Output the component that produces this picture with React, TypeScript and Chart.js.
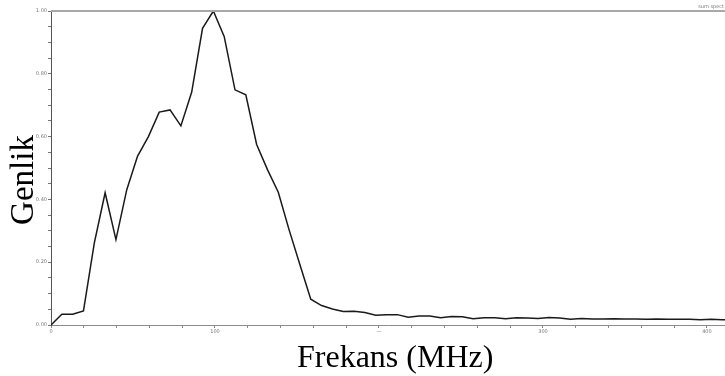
import React, { useEffect, useRef } from "react";
import { Chart, registerables } from "chart.js";

Chart.register(...registerables);

// Frequency samples (MHz) and normalised amplitude
const STEP_MHZ = 6.6;
const amplitude = [
  0.0, 0.034, 0.034, 0.045, 0.261, 0.421, 0.272, 0.431, 0.538, 0.6,
  0.678, 0.685, 0.634, 0.742, 0.945, 1.0, 0.919, 0.749, 0.733, 0.575,
  0.495, 0.423, 0.303, 0.192, 0.082, 0.062, 0.051, 0.043, 0.044, 0.04,
  0.031, 0.033, 0.033, 0.025, 0.029, 0.029, 0.023, 0.027, 0.026, 0.02,
  0.023, 0.023, 0.02, 0.023, 0.022, 0.021, 0.024, 0.022, 0.018, 0.021,
  0.019, 0.019, 0.02, 0.019, 0.019, 0.018, 0.019, 0.018, 0.018, 0.018,
  0.017, 0.018, 0.017, 0.017,
];
const frequency = amplitude.map((_, i) => +(i * STEP_MHZ).toFixed(1));

const xLabelValues = [0, 100, 200, 300, 400];
const xLabelText = ["0", "100", "—", "300", "400"];
const yLabelValues = [0, 0.2, 0.4, 0.6, 0.8, 1.0];

const xTitle = "Frekans (MHz)";
const yTitle = "Genlik";
const cornerText = "sum spect";

export default function App() {
  const ref = useRef<HTMLCanvasElement>(null);

  useEffect(() => {
    document.body.style.margin = "0";
    const canvas = ref.current!;
    const titlePlugin = {
      id: "titles",
      afterDraw(chart: any) {
        const ctx = chart.ctx;
        const area = chart.chartArea;
        ctx.save();
        // top frame line
        ctx.strokeStyle = "#a8a8a8";
        ctx.lineWidth = 2;
        ctx.beginPath();
        ctx.moveTo(area.left, area.top);
        ctx.lineTo(725, area.top);
        ctx.stroke();
        // corner text
        ctx.fillStyle = "#777";
        ctx.font = "5px 'DejaVu Sans'";
        ctx.textAlign = "right";
        ctx.textBaseline = "bottom";
        ctx.fillText(cornerText, 724, 9);
        // x title
        ctx.fillStyle = "#000";
        ctx.font = "32px 'Liberation Serif'";
        ctx.textAlign = "left";
        ctx.textBaseline = "alphabetic";
        ctx.fillText(xTitle, 297, 367);
        // y title
        ctx.translate(33, 180);
        ctx.rotate(-Math.PI / 2);
        ctx.textAlign = "center";
        ctx.font = "33px 'Liberation Serif'";
        ctx.fillText(yTitle, 0, 0);
        ctx.restore();
      },
    };

    const chart = new Chart(canvas, {
      type: "line",
      data: {
        datasets: [
          {
            data: frequency.map((f, i) => ({ x: f, y: amplitude[i] })),
            borderColor: "#1a1a1a",
            borderWidth: 1.5,
            pointRadius: 0,
            tension: 0,
            fill: false,
          },
        ],
      },
      options: {
        animation: false,
        responsive: false,
        maintainAspectRatio: false,
        layout: { padding: { top: 11, right: 0, left: 0, bottom: 0 } },
        plugins: { legend: { display: false }, tooltip: { enabled: false } },
        scales: {
          x: {
            type: "linear",
            min: 0,
            max: 411,
            afterFit: (s: any) => {
              s.height = 51;
            },
            border: { color: "#8a8a8a", width: 1 },
            grid: {
              drawOnChartArea: false,
              tickLength: 3,
              tickColor: "#8a8a8a",
            },
            afterBuildTicks: (s: any) => {
              const t: any[] = [];
              for (let v = 0; v <= 400; v += 20) t.push({ value: v });
              s.ticks = t;
            },
            ticks: {
              autoSkip: false,
              maxRotation: 0,
              padding: 1,
              color: "#777",
              font: { size: 5, family: "'DejaVu Sans'" },
              callback: (v: any) => {
                const i = xLabelValues.indexOf(Number(v));
                return i >= 0 ? xLabelText[i] : "";
              },
            },
          },
          y: {
            type: "linear",
            min: 0,
            max: 1,
            afterFit: (s: any) => {
              s.width = 51;
            },
            border: { color: "#555", width: 1 },
            grid: {
              drawOnChartArea: false,
              tickLength: 3,
              tickColor: "#777",
            },
            afterBuildTicks: (s: any) => {
              const t: any[] = [];
              for (let k = 0; k <= 20; k++) t.push({ value: +(k * 0.05).toFixed(2) });
              s.ticks = t;
            },
            ticks: {
              autoSkip: false,
              padding: 1,
              color: "#777",
              font: { size: 5, family: "'DejaVu Sans'" },
              callback: (v: any) => {
                const n = Number(v);
                return yLabelValues.some((y) => Math.abs(y - n) < 1e-6) ? n.toFixed(2) : "";
              },
            },
          },
        },
      },
      plugins: [titlePlugin],
    });
    return () => chart.destroy();
  }, []);

  return (
    <div style={{ position: "fixed", left: 0, top: 0, width: 725, height: 376, background: "#fff" }}>
      <canvas ref={ref} width={725} height={376} style={{ width: 725, height: 376 }} />
    </div>
  );
}
